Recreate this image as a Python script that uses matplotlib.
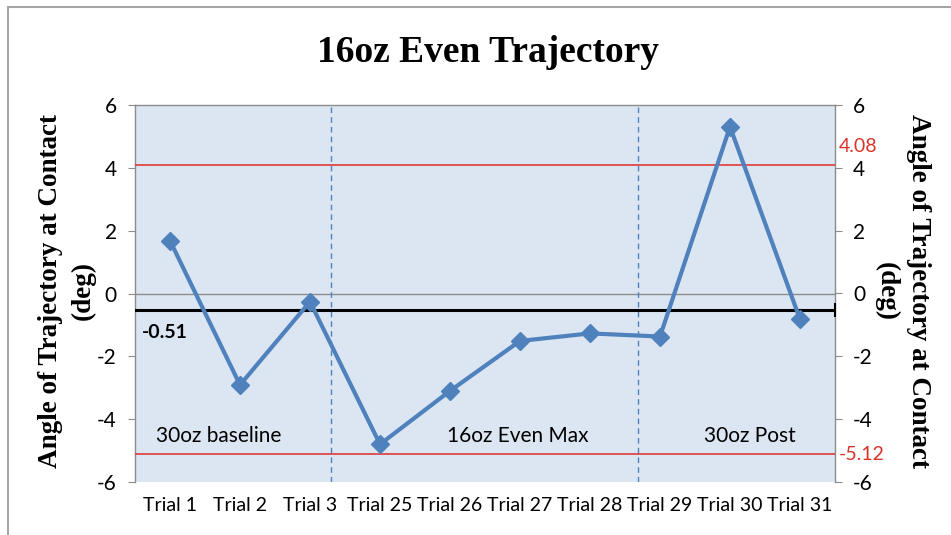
import matplotlib.pyplot as plt
from matplotlib.patches import Rectangle

# Data
trials = ['Trial 1', 'Trial 2', 'Trial 3', 'Trial 25', 'Trial 26', 'Trial 27',
          'Trial 28', 'Trial 29', 'Trial 30', 'Trial 31']
angles = [1.68, -2.91, -0.26, -4.80, -3.10, -1.51, -1.27, -1.37, 5.31, -0.82]
mean_val = -0.51
ucl = 4.08
lcl = -5.12
phase_breaks = [2.3, 6.68]
phase_names = ['30oz baseline', '16oz Even Max', '30oz Post']
phase_pos = [0.69, 4.97, 8.29]

fig = plt.figure(figsize=(9.51, 5.35), dpi=100, facecolor='white')
ax = fig.add_axes([135 / 951, 53 / 535, 700 / 951, 377 / 535])
ax.set_facecolor('#dce6f2')

x = list(range(len(trials)))
ax.plot(x, angles, color='#4f81bd', linewidth=3, marker='D', markersize=9, zorder=5)

ax.axhline(0, color='#8c8c8c', linewidth=1, zorder=2)
ax.axhline(ucl, color='#e03a3a', linewidth=1.2, zorder=3)
ax.axhline(lcl, color='#e03a3a', linewidth=1.2, zorder=3)
ax.axhline(mean_val, color='black', linewidth=2.2, zorder=4)
ax.plot([9.5], [mean_val], marker='|', color='black', markersize=10, markeredgewidth=1.5,
        clip_on=False, zorder=6)
for b in phase_breaks:
    ax.axvline(b, color='#4f81bd', linestyle=(0, (4, 3)), linewidth=1, zorder=2)

lbl_font = 'Lato'
ax.text(-0.4, -1.25, '%.2f' % mean_val, fontsize=14, fontweight='bold', family=lbl_font,
        va='center', ha='left')
for name, px in zip(phase_names, phase_pos):
    ax.text(px, -4.55, name, fontsize=15, family=lbl_font, ha='center', va='center')

ax.set_xlim(-0.5, 9.5)
ax.set_ylim(-6, 6)
ax.set_xticks(x)
ax.set_xticklabels(trials, fontsize=14, family=lbl_font)
ax.tick_params(axis='x', length=0, pad=11)
ax.set_yticks([-6, -4, -2, 0, 2, 4, 6])
ax.set_yticklabels(['-6', '-4', '-2', '0', '2', '4', '6'], fontsize=15, family=lbl_font)
ax.tick_params(axis='y', length=5, color='#8c8c8c', pad=8)
for s in ax.spines.values():
    s.set_color('#8c8c8c')
    s.set_linewidth(1)
ax.spines['bottom'].set_visible(False)

ax2 = ax.twinx()
ax2.set_ylim(-6, 6)
ax2.set_yticks([-6, -4, -2, 0, 2, 4, 6])
ax2.set_yticklabels(['-6', '-4', '-2', '0', '2', '4', '6'], fontsize=15, family=lbl_font)
ax2.tick_params(axis='y', length=5, color='#8c8c8c', pad=8)
for s in ax2.spines.values():
    s.set_visible(False)
ax2.text(1.005, ucl + 0.6, '%.2f' % ucl, transform=ax2.get_yaxis_transform(),
         color='#d9342b', fontsize=14, family=lbl_font, va='center', ha='left')
ax2.text(1.005, lcl, '%.2f' % lcl, transform=ax2.get_yaxis_transform(),
         color='#d9342b', fontsize=14, family=lbl_font, va='center', ha='left')

# axis titles, one text per line
ylabel_lines = ['Angle of Trajectory at Contact', '(deg)']
yc = 1 - 291 / 535
lab = dict(ha='center', va='center', fontsize=19.5, fontweight='bold', family='Liberation Serif')
fig.text(51 / 951, yc, ylabel_lines[0], rotation=90, **lab)
fig.text(83 / 951, yc, ylabel_lines[1], rotation=90, **lab)
fig.text(918 / 951, yc, ylabel_lines[0], rotation=270, **lab)
fig.text(886 / 951, yc, ylabel_lines[1], rotation=270, **lab)

fig.text(0.513, 1 - 52 / 535, '16oz Even Trajectory', ha='center', va='center', fontsize=27,
         fontweight='bold', family='Liberation Serif')

# chart frame
fig.patches.append(Rectangle((8 / 951, -0.1), 1.2, 1 - 7 / 535 + 0.1, transform=fig.transFigure,
                             fill=False, edgecolor='#a6a6a6', linewidth=1.5))

fig.savefig('out.png', dpi=100, facecolor='white')
